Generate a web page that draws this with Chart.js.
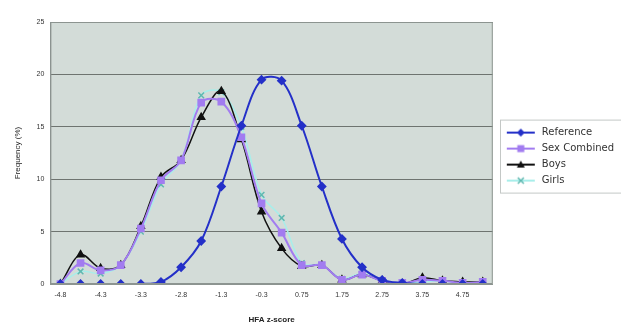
<!DOCTYPE html>
<html>
<head>
<meta charset="utf-8">
<script src="https://cdn.jsdelivr.net/npm/chart.js@4.4.1/dist/chart.umd.min.js"></script>
<style>
  html, body { margin: 0; padding: 0; background: #fff; }
  #wrap { width: 621px; height: 325px; position: relative; }
</style>
</head>
<body>
<div id="wrap"><canvas id="chart"></canvas></div>
<script>
// HFA z-score bins (only every other label is shown on the axis)
const zLabels = ["-4.8", "-4.55", "-4.3", "-3.8", "-3.3", "-3.05", "-2.8", "-2.05", "-1.3", "-0.8", "-0.3",
                 "0.25", "0.75", "1.25", "1.75", "2.25", "2.75", "3.25", "3.75", "4.25", "4.75", "5.25"];

// frequency (%) per bin
const reference   = [0, 0, 0, 0, 0, 0.2, 1.6, 4.1, 9.3, 15.1, 19.5, 19.4, 15.1, 9.3, 4.3, 1.6, 0.4, 0.1, 0, 0, 0, 0];
const sexCombined = [0, 2.0, 1.3, 1.8, 5.3, 9.9, 11.8, 17.3, 17.4, 14.0, 7.7, 4.9, 1.8, 1.8, 0.4, 0.9, 0.3, 0.1, 0.4, 0.3, 0.1, 0.2];
const boys        = [0, 2.8, 1.5, 1.8, 5.5, 10.2, 11.8, 15.9, 18.4, 13.8, 6.9, 3.4, 1.7, 1.8, 0.4, 0.9, 0.3, 0.0, 0.6, 0.3, 0.2, 0.2];
const girls       = [0, 1.2, 1.0, 1.8, 5.0, 9.5, 11.8, 18.0, 18.3, 15.0, 8.5, 6.3, 2.0, 1.8, 0.5, 1.0, 0.3, 0.1, 0.2, 0.3, 0.0, 0.1];

const yMax = 25;
const yStep = 5;

const FONT = "'Liberation Sans', Arial, sans-serif";

// small legend sample: line with marker in the middle (left 8px left blank)
function legendSample(lineColor, drawMarker) {
  const c = document.createElement('canvas');
  c.width = 38; c.height = 10;
  const g = c.getContext('2d');
  g.strokeStyle = lineColor;
  g.lineWidth = 2;
  g.beginPath(); g.moveTo(8, 5); g.lineTo(36, 5); g.stroke();
  drawMarker(g, 22, 5);
  return c;
}

// plot area background + legend frame
const plotBg = {
  id: 'plotBg',
  beforeDraw(chart) {
    const { ctx, chartArea: a } = chart;
    ctx.save();
    ctx.fillStyle = '#d3dcd8';
    ctx.fillRect(a.left, a.top, a.right - a.left, a.bottom - a.top);
    ctx.restore();
  },
  afterDraw(chart) {
    const { ctx, chartArea: a, legend } = chart;
    ctx.save();
    ctx.strokeStyle = '#8c9490';
    ctx.lineWidth = 1;
    ctx.strokeRect(a.left + 0.5, a.top + 0.5, a.right - a.left - 1, a.bottom - a.top - 1);
    const boxes = legend.legendHitBoxes;
    if (boxes && boxes.length) {
      const top = boxes[0].top - 8;
      const last = boxes[boxes.length - 1];
      ctx.strokeStyle = '#c4c8c6';
      ctx.strokeRect(500.5, top + 0.5, 130, last.top + last.height + 7 - top);
    }
    ctx.restore();
  }
};

new Chart(document.getElementById('chart'), {
  type: 'line',
  data: {
    labels: zLabels,
    datasets: [
      {
        label: 'Reference',
        data: reference,
        borderColor: '#2430c8',
        backgroundColor: '#2430c8',
        borderWidth: 2,
        pointStyle: 'rectRot',
        pointRadius: 3.5,
        tension: 0.35
      },
      {
        label: 'Sex Combined',
        data: sexCombined,
        borderColor: '#a27cf0',
        backgroundColor: '#a27cf0',
        borderWidth: 2,
        pointStyle: 'rect',
        pointRadius: 4,
        tension: 0.35
      },
      {
        label: 'Boys',
        data: boys,
        borderColor: '#111111',
        backgroundColor: '#111111',
        borderWidth: 1.5,
        pointStyle: 'triangle',
        pointRadius: 4,
        tension: 0.35
      },
      {
        label: 'Girls',
        data: girls,
        borderColor: '#a8eeea',
        backgroundColor: '#a8eeea',
        borderWidth: 1.5,
        pointStyle: 'crossRot',
        pointRadius: 4,
        pointBorderColor: '#5fb8b0',
        tension: 0.35
      }
    ]
  },
  options: {
    responsive: true,
    maintainAspectRatio: false,
    animation: false,
    layout: { padding: { top: 22, right: -3, bottom: 0, left: 9 } },
    scales: {
      x: {
        type: 'category',
        offset: true,
        grid: { display: false, drawTicks: false },
        border: { color: '#8c9490' },
        ticks: {
          autoSkip: false,
          maxRotation: 0,
          padding: 7,
          color: '#333',
          font: { family: FONT, size: 7 },
          callback: function (v, i) { return i % 2 === 0 ? zLabels[i] : ''; }
        },
        title: { display: true, text: 'HFA z-score', color: '#222', font: { family: FONT, size: 8, weight: 'bold' }, padding: { top: 9, bottom: 0 } }
      },
      y: {
        min: 0,
        max: yMax,
        ticks: { stepSize: yStep, color: '#333', font: { family: FONT, size: 7 }, padding: 6 },
        grid: { color: '#6e7470', lineWidth: 1, drawTicks: false },
        border: { color: '#8c9490' },
        title: { display: true, text: 'Frequency (%)', color: '#222', font: { family: FONT, size: 8 }, padding: { top: 4, bottom: 8 } }
      }
    },
    plugins: {
      legend: {
        position: 'right',
        align: 'start',
        title: { display: true, text: '', font: { size: 8 }, padding: { top: 90, bottom: 0 } },
        labels: {
          usePointStyle: true,
          pointStyleWidth: 38,
          padding: 6,
          color: '#333',
          font: { family: "'DejaVu Sans', sans-serif", size: 10 },
          generateLabels: function (chart) {
            return chart.data.datasets.map(function (ds, i) {
              const col = ds.pointBorderColor || ds.borderColor;
              return {
                text: ds.label,
                datasetIndex: i,
                fontColor: '#333',
                pointStyle: legendSample(ds.borderColor, function (g, x, y) {
                  g.fillStyle = col; g.strokeStyle = col; g.lineWidth = 1.5;
                  g.beginPath();
                  if (ds.pointStyle === 'rectRot') { g.moveTo(x, y - 4); g.lineTo(x + 4, y); g.lineTo(x, y + 4); g.lineTo(x - 4, y); g.fill(); }
                  else if (ds.pointStyle === 'rect') { g.fillRect(x - 3.5, y - 3.5, 7, 7); }
                  else if (ds.pointStyle === 'triangle') { g.moveTo(x, y - 4); g.lineTo(x + 4, y + 3); g.lineTo(x - 4, y + 3); g.fill(); }
                  else { g.moveTo(x - 3, y - 3); g.lineTo(x + 3, y + 3); g.moveTo(x + 3, y - 3); g.lineTo(x - 3, y + 3); g.stroke(); }
                }),
                lineWidth: 0,
                strokeStyle: 'transparent',
                fillStyle: 'transparent'
              };
            });
          }
        }
      },
      tooltip: { enabled: false }
    }
  },
  plugins: [plotBg]
});
</script>
</body>
</html>
